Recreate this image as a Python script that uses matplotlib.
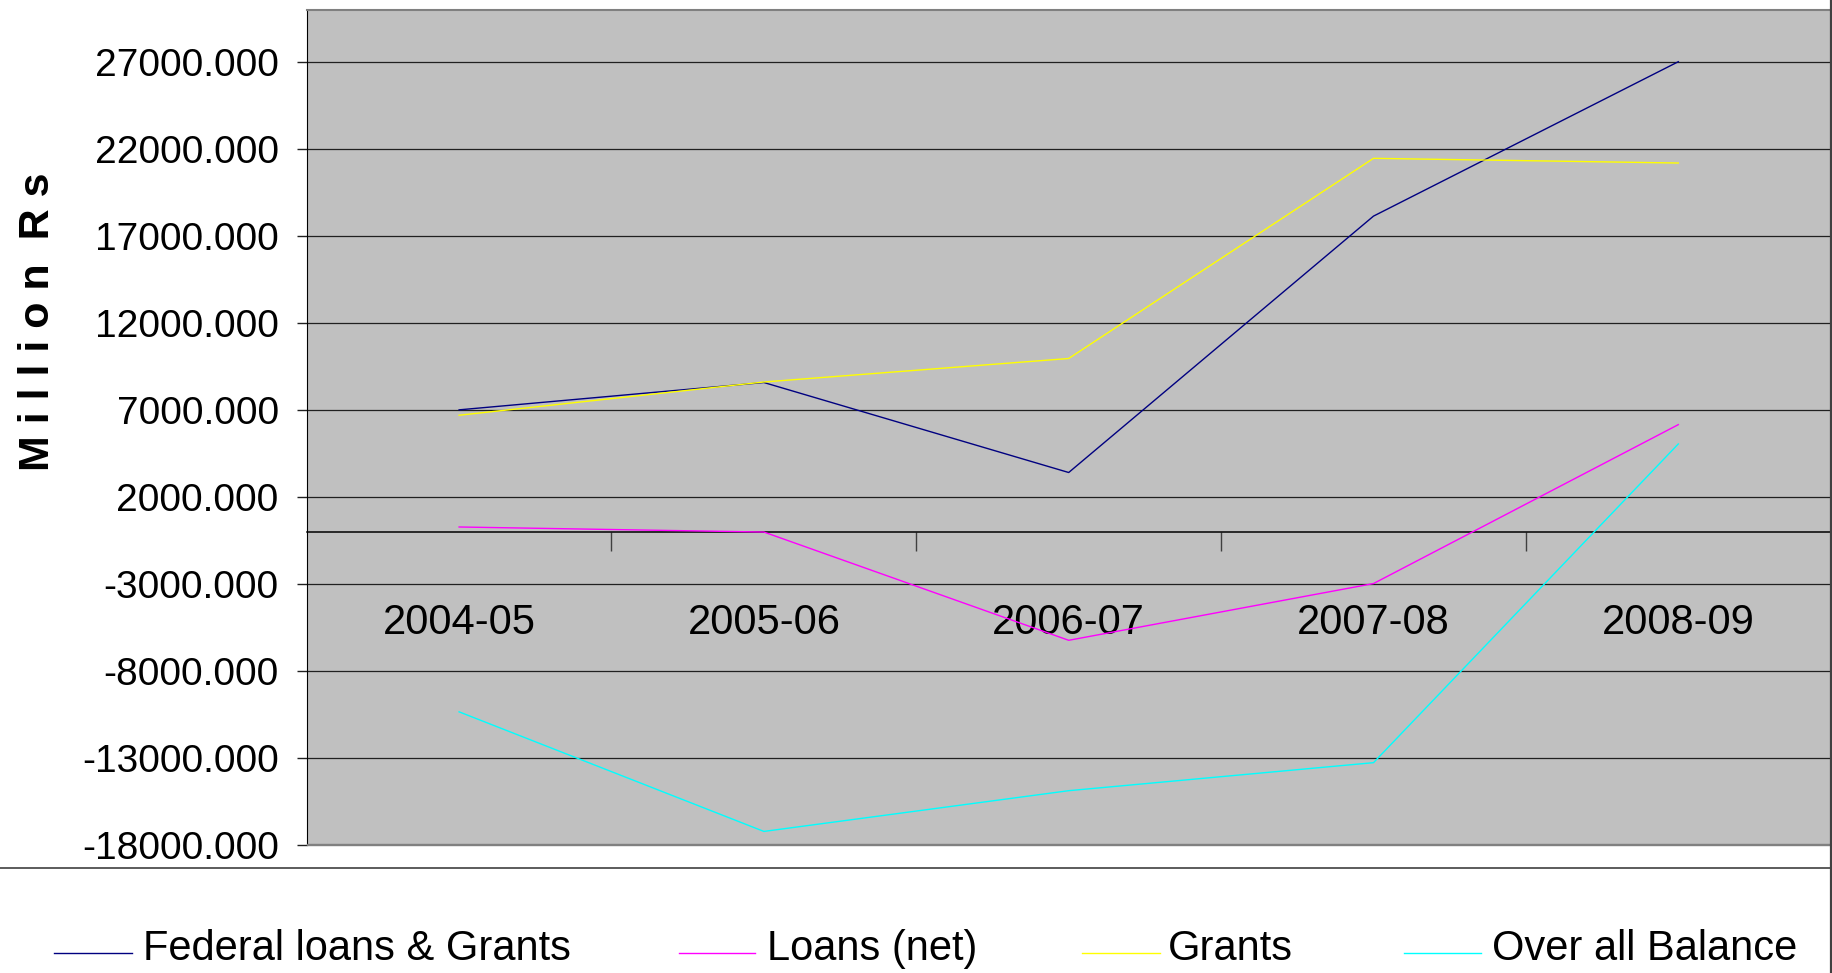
import numpy as np
import matplotlib
matplotlib.use('Agg')
import matplotlib.pyplot as plt
from matplotlib.lines import Line2D
from matplotlib.patches import Rectangle

# data (million Rs)
years = ['2004-05', '2005-06', '2006-07', '2007-08', '2008-09']
federal = [7000, 8570, 3400, 18130, 27000]
loans_net = [270, -20, -6240, -2980, 6150]
grants = [6690, 8600, 9950, 21450, 21180]
balance = [-10350, -17220, -14880, -13270, 5040]

names = ['Federal loans & Grants', 'Loans (net)', 'Grants', 'Over all Balance']
colors = ['#000080', '#FF00FF', '#FFFF00', '#00FFFF']
series = [federal, loans_net, grants, balance]

plt.rcParams['font.family'] = ['Liberation Sans', 'DejaVu Sans']

W, H = 1833, 973
fig = plt.figure(figsize=(W / 100.0, H / 100.0), dpi=100)

# plot area in pixels
left, right, top, bottom = 306.7, 1830.7, 9.5, 845.0
ax = fig.add_axes([left / W, 1 - bottom / H, (right - left) / W, (bottom - top) / H])
ax.set_facecolor('#C0C0C0')

x = np.arange(len(years))
for vals, c, n in zip(series, colors, names):
    ax.plot(x, vals, color=c, lw=1.0, label=n, zorder=3)

ax.set_xlim(-0.5, len(years) - 0.5)
ax.set_ylim(-18000, 30000)

yt = np.arange(-18000, 27001, 5000)
ax.set_yticks(yt)
ax.set_yticklabels(['%.3f' % v for v in yt], fontsize=28)
ax.yaxis.grid(True, color='#202020', lw=0.9, zorder=1)
ax.set_axisbelow(True)
ax.tick_params(axis='y', direction='out', length=7.2, width=1, color='#202020', pad=13)

# category axis sits on zero
ax.spines['bottom'].set_position(('data', 0))
ax.spines['bottom'].set_color('black')
ax.spines['bottom'].set_linewidth(1.1)
ax.set_xticks(x)
ax.set_xticklabels(years, fontsize=30)
ax.tick_params(axis='x', which='major', length=0, pad=51)
ax.set_xticks(x[:-1] + 0.5, minor=True)
ax.tick_params(axis='x', which='minor', direction='out', length=13.7, width=1, color='#404040')

ax.spines['left'].set_color('black')
ax.spines['top'].set_color('#808080')
ax.spines['top'].set_linewidth(1.5)
ax.spines['right'].set_color('#404040')
ax.spines['right'].set_linewidth(2)
ax.add_patch(Rectangle((0, 0), 1, 0.0012, transform=ax.transAxes, color='#808080',
                       clip_on=False, zorder=4))

fig.text(38 / W, 1 - 322 / H, 'M i l l i o n  R s', rotation=90, fontsize=31,
         fontweight='bold', ha='center', va='center')

# legend box (cut off by the image edge)
fig.add_artist(Line2D([0, 1831 / W], [1 - 867.7 / H] * 2, color='#404040', lw=1.2))
fig.add_artist(Line2D([1831 / W] * 2, [0, 1], color='#404040', lw=1.6))

handle_x = [(54, 132), (679, 755), (1082, 1160), (1404, 1481)]
text_x = [143, 767, 1168, 1492]
for (x0, x1), tx, c, n in zip(handle_x, text_x, colors, names):
    fig.add_artist(Line2D([x0 / W, x1 / W], [1 - 952.7 / H] * 2, color=c, lw=1.0))
    fig.text(tx / W, 1 - 960 / H, n, fontsize=30, ha='left', va='baseline')

fig.savefig('out.png', dpi=100, facecolor='white')
